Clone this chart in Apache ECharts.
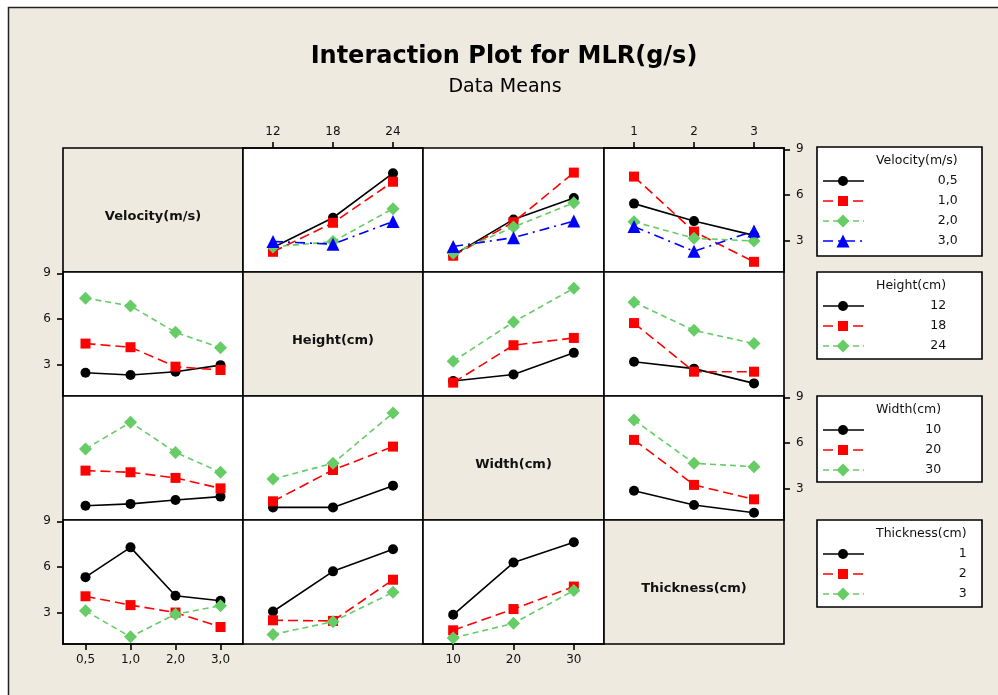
<!DOCTYPE html>
<html><head><meta charset="utf-8">
<script src="https://cdn.jsdelivr.net/npm/echarts@6/dist/echarts.min.js"></script>
<style>html,body{margin:0;padding:0;background:#fff}#c{width:998px;height:695px}</style>
</head><body><div id="c"></div>
<script>
// ---- factor levels (tick labels) ----
const velocityLevels = ['0,5', '1,0', '2,0', '3,0'];
const heightLevels = ['12', '18', '24'];
const widthLevels = ['10', '20', '30'];
const thicknessLevels = ['1', '2', '3'];
const factorNames = ['Velocity(m/s)', 'Height(cm)', 'Width(cm)', 'Thickness(cm)'];
const yTickValues = [3, 6, 9];

// ---- data means: each row = one trace level, values along the x factor ----
// traces by Velocity
const velTraceByHeight = [[2.54, 4.50, 7.43], [2.26, 4.17, 6.87], [2.58, 2.93, 5.10], [2.94, 2.76, 4.26]];
const velTraceByWidth = [[2.04, 4.39, 5.80], [2.00, 4.21, 7.47], [2.17, 3.89, 5.48], [2.61, 3.19, 4.28]];
const velTraceByThickness = [[5.43, 4.28, 3.34], [7.21, 3.59, 1.60], [4.24, 3.15, 2.97], [3.92, 2.29, 3.63]];
// traces by Height
const hgtTraceByVelocity = [[2.46, 2.31, 2.53, 2.96], [4.38, 4.14, 2.86, 2.64], [7.37, 6.86, 5.12, 4.10]];
const hgtTraceByWidth = [[1.92, 2.35, 3.77], [1.81, 4.27, 4.75], [3.22, 5.80, 8.02]];
const hgtTraceByThickness = [[3.18, 2.73, 1.76], [5.73, 2.53, 2.53], [7.10, 5.25, 4.38]];
// traces by Width
const widTraceByVelocity = [[1.87, 1.99, 2.25, 2.47], [4.18, 4.07, 3.70, 3.01], [5.60, 7.36, 5.38, 4.07]];
const widTraceByHeight = [[1.76, 1.76, 3.19], [2.16, 4.22, 5.76], [3.63, 4.66, 7.97]];
const widTraceByThickness = [[2.86, 1.92, 1.41], [6.20, 3.24, 2.29], [7.51, 4.66, 4.44]];
// traces by Thickness
const thkTraceByVelocity = [[5.33, 7.29, 4.11, 3.78], [4.07, 3.49, 3.00, 2.05], [3.11, 1.40, 2.89, 3.45]];
const thkTraceByHeight = [[3.07, 5.71, 7.16], [2.49, 2.45, 5.16], [1.56, 2.40, 4.33]];
const thkTraceByWidth = [[2.85, 6.29, 7.63], [1.83, 3.23, 4.71], [1.33, 2.29, 4.45]];

const levelsByFactor = [velocityLevels, heightLevels, widthLevels, thicknessLevels];
const panelData = [
  [null, velTraceByHeight, velTraceByWidth, velTraceByThickness],
  [hgtTraceByVelocity, null, hgtTraceByWidth, hgtTraceByThickness],
  [widTraceByVelocity, widTraceByHeight, null, widTraceByThickness],
  [thkTraceByVelocity, thkTraceByHeight, thkTraceByWidth, null]
];

// ---- styles / layout ----
const BG = '#EEEAE0';
const FONT = '"DejaVu Sans", Tahoma, Verdana, sans-serif';
const traceStyles = [
  { color: '#000000', symbol: 'circle', size: 10, dash: 'solid' },
  { color: '#FF0000', symbol: 'rect', size: 10, dash: [10, 5] },
  { color: '#66CC66', symbol: 'diamond', size: 13, dash: [6, 4] },
  { color: '#0000FF', symbol: 'triangle', size: 13, dash: [10, 5, 2, 5] }
];
const colX = [63, 243, 423, 604, 784];
const rowY = [148, 272, 396, 520, 644];
const Y_MIN = 0.93, Y_MAX = 9.09;

const grids = [], xAxes = [], yAxes = [], series = [];
for (let r = 0; r < 4; r++) {
  for (let c = 0; c < 4; c++) {
    const gi = r * 4 + c;
    grids.push({
      left: colX[c], top: rowY[r], width: colX[c + 1] - colX[c], height: rowY[r + 1] - rowY[r],
      show: true, borderColor: '#000', borderWidth: 1.6,
      backgroundColor: r === c ? BG : '#FFFFFF', containLabel: false
    });
    const showTop = r === 0 && (c === 1 || c === 3);
    const showBottom = r === 3 && (c === 0 || c === 2);
    const showX = showTop || showBottom;
    xAxes.push({
      type: 'category', gridIndex: gi, data: levelsByFactor[c], boundaryGap: true,
      position: showTop ? 'top' : 'bottom', show: showX,
      axisLine: { show: showX, lineStyle: { color: '#000', width: 1.6 } },
      axisTick: { show: showX, alignWithLabel: true, length: 6, lineStyle: { color: '#000', width: 1.6 } },
      axisLabel: { show: showX, color: '#111', fontFamily: FONT, fontSize: 12, margin: 10 },
      splitLine: { show: false }
    });
    const showLeft = c === 0 && (r === 1 || r === 3);
    const showRight = c === 3 && (r === 0 || r === 2);
    const showY = showLeft || showRight;
    yAxes.push({
      type: 'value', gridIndex: gi, min: Y_MIN, max: Y_MAX, show: showY,
      position: showRight ? 'right' : 'left',
      axisLine: { show: showY, lineStyle: { color: '#000', width: 1.6 } },
      axisTick: { show: showY, length: 6, customValues: yTickValues, lineStyle: { color: '#000', width: 1.6 } },
      axisLabel: { show: showY, customValues: yTickValues, color: '#111', fontFamily: FONT, fontSize: 12, margin: 12 },
      splitLine: { show: false }
    });
    const traces = panelData[r][c];
    if (traces) {
      traces.forEach((vals, t) => {
        const st = traceStyles[t];
        series.push({
          type: 'line', xAxisIndex: gi, yAxisIndex: gi, data: vals,
          symbol: st.symbol, symbolSize: st.size, showSymbol: true,
          lineStyle: { color: st.color, width: 1.6, type: st.dash },
          itemStyle: { color: st.color, borderWidth: 0 },
          emphasis: { disabled: true }, silent: true, animation: false, z: 3 + t
        });
      });
    }
  }
}

// ---- graphics: frame, titles, diagonal labels, legends ----
const graphic = [];
graphic.push({ type: 'rect', shape: { x: 0, y: 0, width: 998, height: 7 }, style: { fill: '#FFFFFF' }, z: 1 });
graphic.push({ type: 'rect', shape: { x: 0, y: 0, width: 8, height: 695 }, style: { fill: '#FFFFFF' }, z: 1 });
graphic.push({ type: 'polyline', shape: { points: [[8.5, 700], [8.5, 7.5], [1000, 7.5]] }, style: { stroke: '#222', lineWidth: 1.5, fill: null }, z: 2 });
graphic.push({ type: 'text', style: { text: 'Interaction Plot for MLR(g/s)', x: 504, y: 57, textAlign: 'center', textVerticalAlign: 'middle', fontFamily: FONT, fontWeight: 'bold', fontSize: 24, fill: '#000' }, z: 5 });
graphic.push({ type: 'text', style: { text: 'Data Means', x: 505, y: 87, textAlign: 'center', textVerticalAlign: 'middle', fontFamily: FONT, fontSize: 19, fill: '#000' }, z: 5 });
for (let i = 0; i < 4; i++) {
  graphic.push({ type: 'text', style: {
    text: factorNames[i], x: (colX[i] + colX[i + 1]) / 2, y: (rowY[i] + rowY[i + 1]) / 2 + 7,
    textAlign: 'center', textVerticalAlign: 'middle', fontFamily: FONT, fontWeight: 'bold', fontSize: 13, fill: '#111'
  }, z: 5 });
}
const measureCtx = document.createElement('canvas').getContext('2d');
const legendBoxes = [
  { top: 147, height: 109 },
  { top: 272, height: 87 },
  { top: 396, height: 86 },
  { top: 520, height: 87 }
];
legendBoxes.forEach((box, f) => {
  graphic.push({ type: 'rect', shape: { x: 817, y: box.top, width: 165, height: box.height }, style: { fill: '#FFFFFF', stroke: '#000', lineWidth: 1.6 }, z: 5 });
  measureCtx.font = '12.5px ' + FONT;
  const tw = measureCtx.measureText(factorNames[f]).width;
  const tx = 876;
  graphic.push({ type: 'text', style: { text: factorNames[f], x: tx, y: box.top + 13.5, textAlign: 'left', textVerticalAlign: 'middle', fontFamily: FONT, fontSize: 12.5, fill: '#111' }, z: 6 });
  levelsByFactor[f].forEach((lv, k) => {
    const y = box.top + 34 + k * 20;
    const st = traceStyles[k];
    graphic.push({ type: 'line', shape: { x1: 823, y1: y, x2: 864, y2: y }, style: { stroke: st.color, lineWidth: 1.6, lineDash: st.dash === 'solid' ? null : st.dash }, z: 6 });
    const mx = 843;
    if (st.symbol === 'circle') graphic.push({ type: 'circle', shape: { cx: mx, cy: y, r: 5 }, style: { fill: st.color }, z: 7 });
    else if (st.symbol === 'rect') graphic.push({ type: 'rect', shape: { x: mx - 5, y: y - 5, width: 10, height: 10 }, style: { fill: st.color }, z: 7 });
    else if (st.symbol === 'diamond') graphic.push({ type: 'polygon', shape: { points: [[mx, y - 6.5], [mx + 6.5, y], [mx, y + 6.5], [mx - 6.5, y]] }, style: { fill: st.color }, z: 7 });
    else graphic.push({ type: 'polygon', shape: { points: [[mx, y - 6.5], [mx + 6.5, y + 6.5], [mx - 6.5, y + 6.5]] }, style: { fill: st.color }, z: 7 });
    graphic.push({ type: 'text', style: { text: lv, x: tx + tw, y: y, textAlign: 'right', textVerticalAlign: 'middle', fontFamily: FONT, fontSize: 12.5, fill: '#111' }, z: 7 });
  });
});

const chart = echarts.init(document.getElementById('c'), null, { renderer: 'canvas' });
chart.setOption({
  backgroundColor: BG,
  animation: false,
  grid: grids, xAxis: xAxes, yAxis: yAxes, series: series,
  graphic: graphic
});
</script></body></html>
